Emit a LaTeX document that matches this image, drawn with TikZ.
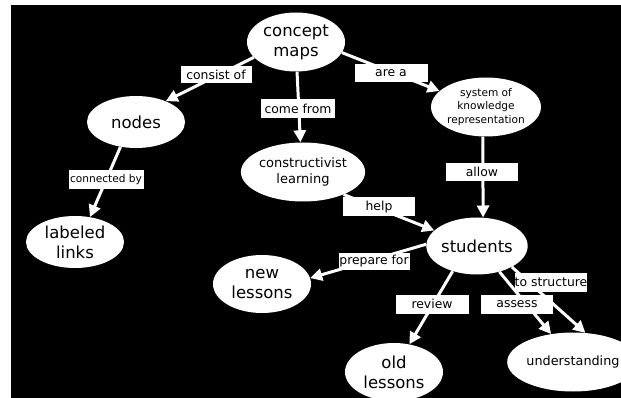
\documentclass[tikz,border=0pt]{standalone}
\usepackage{fontspec}
\setmainfont{DejaVu Sans}
\usetikzlibrary{shapes.geometric,arrows.meta}
\tikzset{
  concept/.style={ellipse, fill=white, draw=none, inner sep=0pt,
    minimum width=98pt, minimum height=56pt, text=black, align=center,
    font=\fontsize{16.5}{20}\selectfont},
  linklabel/.style={rectangle, fill=white, draw=none, inner sep=0pt,
    minimum width=72pt, minimum height=18pt, text=black,
    font=\fontsize{12.4}{14}\selectfont},
  conn/.style={draw=white, line width=3pt,
    -{Triangle[length=12pt,width=12pt]}, shorten >=0pt}
}
\begin{document}
\begin{tikzpicture}[x=1pt,y=-1pt]
\useasboundingbox (0,0) rectangle (621,398);
\fill[white] (0,0) rectangle (621,398);
\fill[black] (11,5) rectangle (621,398);

% concepts
\node[concept, minimum height=59pt] (conc) at (296,42) {concept\\maps};
\node[concept, minimum height=52pt] (nodes) at (136,122) {nodes};
\node[concept, minimum height=52pt] (links) at (75,242) {labeled\\links};
\node[concept, minimum height=59pt, font=\fontsize{13}{16}\selectfont] (cons) at (303,172) {constructivist\\learning};
\node[concept, minimum width=92pt, minimum height=59pt, font=\fontsize{10.6}{13.5}\selectfont] (sys) at (486,107) {\raisebox{3pt}{\begin{tabular}{@{}c@{}}system of\\knowledge\\representation\end{tabular}}};
\node[concept, minimum height=57pt] (stud) at (477,246) {students};
\node[concept, minimum height=58pt] (newl) at (262,284) {new\\lessons};
\node[concept, minimum height=58pt] (oldl) at (394,372) {old\\lessons};
\node[concept, minimum width=96pt, minimum height=59pt, font=\fontsize{12.8}{15}\selectfont] (und) at (573,362) {understanding};

% connectors
\draw[conn] (conc.200) -- (nodes.35);
\draw[conn] (conc.-88) -- (cons.95);
\draw[conn] (conc.-13) -- (sys.161);
\draw[conn] (nodes.238) -- (links.59);
\draw[conn] (cons.-29) -- (stud.160);
\draw[conn] (sys.264) -- (stud.78);
\draw[conn] (stud.178) -- (newl.7);
\draw[conn] (stud.226) -- (oldl.61);
\draw[conn] (stud.311) -- (und.128);
\draw[conn] (stud.-31) -- (und.67);

% link labels
\node[linklabel, minimum width=71pt, minimum height=17pt] (lconsist) at (216,75) {consist of};
\node[linklabel, minimum width=74pt, minimum height=19pt] (lcome) at (298,109) {come from};
\node[linklabel, minimum width=73pt] (lare) at (391,73) {are a};
\node[linklabel, minimum width=75pt, minimum height=19pt, font=\fontsize{10.6}{12}\selectfont] (lconn) at (106,180) {connected by};
\node[linklabel] (lallow) at (482,172) {allow};
\node[linklabel, minimum height=19pt] (lhelp) at (379,207) {help};
\node[linklabel, minimum width=71pt, minimum height=17pt] (lprep) at (374,261) {prepare for};
\node[linklabel, minimum width=73pt, minimum height=19pt] (lreview) at (432,304) {review};
\node[linklabel, minimum height=19pt] (lassess) at (517,304) {assess};
\node[linklabel, minimum height=19pt] (lstruct) at (551,282) {to structure};
\end{tikzpicture}
\end{document}
